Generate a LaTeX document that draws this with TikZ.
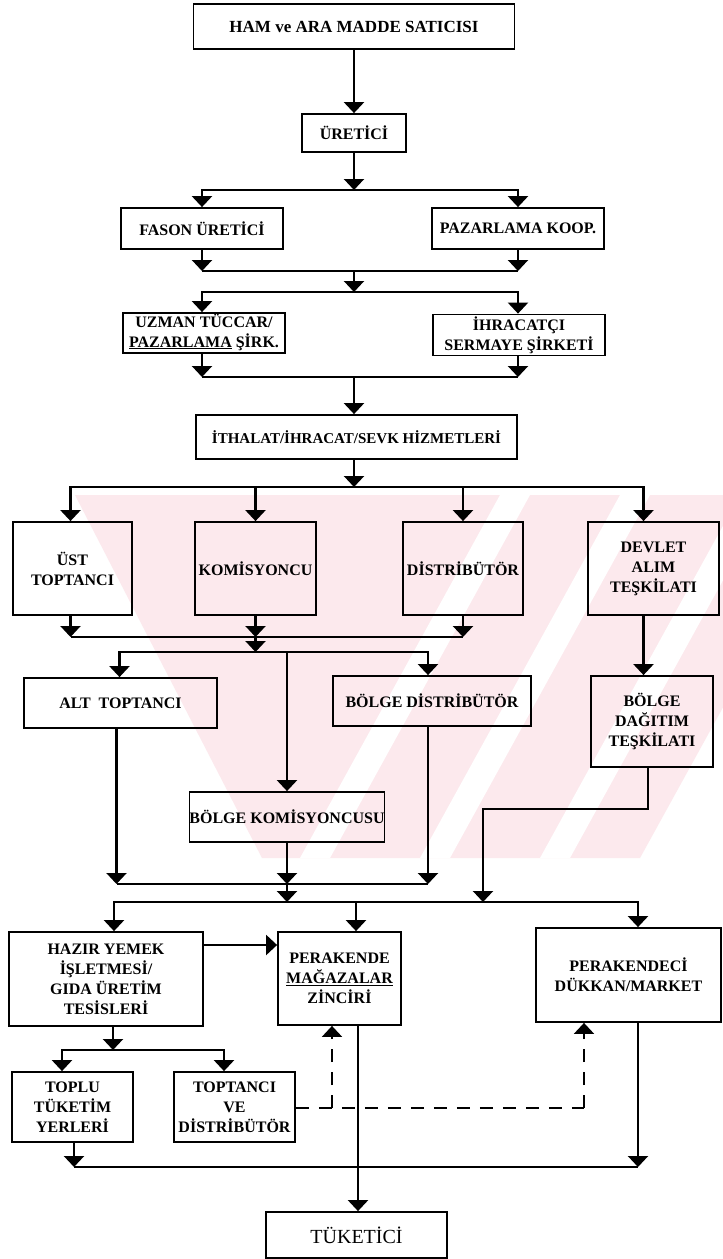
\documentclass[tikz,border=0pt]{standalone}
\usepackage{fontspec}
\setmainfont{Liberation Serif}
\usetikzlibrary{arrows.meta}
\definecolor{wmpink}{RGB}{252,233,237}
\newcommand\lab{\fontsize{16}{20}\selectfont\bfseries}
\tikzset{
  box/.style={draw, line width=1.8pt, rectangle, inner sep=0pt, align=center, font=\lab},
  ln/.style={line width=2.2pt},
  arr/.style={line width=2.2pt, -{Triangle[width=20pt,length=11pt]}},
  dsh/.style={line width=2pt, dash pattern=on 13pt off 10pt},
  dsharr/.style={dsh, -{Triangle[width=20pt,length=11pt]}},
}
\begin{document}
\begin{tikzpicture}[x=1pt, y=-1pt]
\useasboundingbox (0,0) rectangle (723,1259);
\fill[white] (0,0) rectangle (723,1259);

% faint background emblem
\begin{scope}
  \clip (0,495) rectangle (723,858);
  \fill[wmpink] (75,495) -- (262,858) -- (640,858) -- (840,495) -- cycle;
  \foreach \b in {300,420,540} {
    \fill[white] (\b,858) -- (\b+30,858) -- (\b+230,495) -- (\b+200,495) -- cycle;
  }
\end{scope}

% boxes
\node[box, minimum width=321pt, minimum height=45pt, font=\fontsize{17}{20}\selectfont\bfseries] (ham) at (354,26.5) {HAM ve ARA MADDE SATICISI};
\node[box, minimum width=104pt, minimum height=38pt] (ure) at (354,133) {ÜRETİCİ};
\node[box, minimum width=162pt, minimum height=41pt] (fason) at (202,228.5) {FASON ÜRETİCİ};
\node[box, minimum width=172pt, minimum height=41pt] (pazk) at (518,228.5) {PAZARLAMA KOOP.};
\node[box, minimum width=162pt, minimum height=40pt] (uzman) at (204,333) {UZMAN TÜCCAR/\\\underline{PAZARLAMA} \underline{ŞİRK.}};
\node[box, minimum width=172pt, minimum height=41pt] (ihrac) at (519,335) {İHRACATÇI\\SERMAYE ŞİRKETİ};
\node[box, minimum width=321pt, minimum height=44pt, font=\fontsize{15}{20}\selectfont\bfseries] (ithal) at (356.5,437) {İTHALAT/İHRACAT/SEVK HİZMETLERİ};
\node[box, minimum width=119pt, minimum height=93pt] (ust) at (72.5,568.5) {ÜST\\TOPTANCI};
\node[box, minimum width=121pt, minimum height=93pt] (komis) at (255.5,568.5) {KOMİSYONCU};
\node[box, minimum width=120pt, minimum height=93pt] (dist) at (463,568.5) {DİSTRİBÜTÖR};
\node[box, minimum width=131pt, minimum height=93pt] (devlet) at (653.5,568.5) {DEVLET\\ALIM\\TEŞKİLATI};
\node[box, minimum width=193pt, minimum height=50pt] (alt) at (120.5,703) {ALT~~TOPTANCI};
\node[box, minimum width=198pt, minimum height=50pt] (bdist) at (432,701) {BÖLGE DİSTRİBÜTÖR};
\node[box, minimum width=122pt, minimum height=91pt] (bdag) at (652,721.5) {BÖLGE\\DAĞITIM\\TEŞKİLATI};
\node[box, minimum width=190pt, minimum height=50pt] (bkom) at (287,817) {BÖLGE KOMİSYONCUSU};
\node[box, minimum width=194pt, minimum height=94pt] (hazir) at (106,979) {HAZIR YEMEK\\İŞLETMESİ/\\GIDA ÜRETİM\\TESİSLERİ};
\node[box, minimum width=123pt, minimum height=93pt] (perak) at (339.5,978.5) {PERAKENDE\\\underline{MAĞAZALAR}\\ZİNCİRİ};
\node[box, minimum width=185pt, minimum height=94pt] (perakci) at (628.5,975) {PERAKENDECİ\\DÜKKAN/MARKET};
\node[box, minimum width=121pt, minimum height=70pt] (toplu) at (72.5,1107) {TOPLU\\TÜKETİM\\YERLERİ};
\node[box, minimum width=121pt, minimum height=70pt] (topdist) at (234.5,1107) {TOPTANCI\\VE\\DİSTRİBÜTÖR};
\node[box, minimum width=181pt, minimum height=46pt, font=\fontsize{20}{24}\selectfont] (tuk) at (356.5,1235) {TÜKETİCİ};

% bus junctions
\coordinate (b1) at (354,190);
\coordinate (b2) at (354,271);
\coordinate (b3) at (354,292);
\coordinate (b4) at (354,377);
\coordinate (b5) at (354,487);
\coordinate (b6) at (255.5,637);
\coordinate (b7) at (255.5,652);
\coordinate (b8) at (287,884);
\coordinate (b9) at (287,902);
\coordinate (st) at (483,809);
\coordinate (b10) at (113,1050);
\coordinate (b11) at (358,1167);
\coordinate (d1) at (332,1108);
\coordinate (d2) at (584,1108);

% top chain
\draw[arr] (ham.south) -- (ure.north);
\draw[arr] (ure.south) -- (b1);
\draw[arr] (b1) -| (fason.north);
\draw[arr] (b1) -| (pazk.north);
\draw[arr] (fason.south) -- (fason.south |- b2);
\draw[arr] (pazk.south) -- (pazk.south |- b2);
\draw[ln] (fason.south |- b2) -- (pazk.south |- b2);
\draw[arr] (b2) -- (b3);
\draw[arr] (b3) -| ([xshift=-2pt]uzman.north);
\draw[arr] (b3) -| ([xshift=-1pt]ihrac.north);
\draw[arr] ([xshift=-2pt]uzman.south) -- ([xshift=-2pt]uzman.south |- b4);
\draw[arr] ([xshift=-1pt]ihrac.south) -- ([xshift=-1pt]ihrac.south |- b4);
\draw[ln] ([xshift=-2pt]uzman.south |- b4) -- ([xshift=-1pt]ihrac.south |- b4);
\draw[arr] (b4) -- (b4 |- ithal.north);
\draw[arr] (b4 |- ithal.south) -- (b5);

% first distribution level
\draw[arr] (b5) -| ([xshift=-2pt]ust.north);
\draw[arr] (b5) -| (komis.north);
\draw[arr] (b5) -| (dist.north);
\draw[arr] (b5) -| ([xshift=-10pt]devlet.north);
\draw[arr] ([xshift=-2pt]ust.south) -- ([xshift=-2pt]ust.south |- b6);
\draw[arr] (komis.south) -- (b6);
\draw[arr] (dist.south) -- (dist.south |- b6);
\draw[ln] ([xshift=-2pt]ust.south |- b6) -- (dist.south |- b6);
\draw[arr] (b6) -- (b7);
\draw[arr] (b7) -| ([xshift=-1pt]alt.north);
\draw[arr] (b7) -| ([xshift=-4pt]bdist.north);
\draw[arr] (b7 -| bkom.north) -- (bkom.north);
\draw[arr] ([xshift=-10pt]devlet.south) -- ([xshift=-10pt]devlet.south |- bdag.north);

% second distribution level
\draw[arr] ([xshift=-4pt]alt.south) -- ([xshift=-4pt]alt.south |- b8);
\draw[arr] (bkom.south) -- (b8);
\draw[arr] ([xshift=-4pt]bdist.south) -- ([xshift=-4pt]bdist.south |- b8);
\draw[ln] ([xshift=-4pt]alt.south |- b8) -- ([xshift=-4pt]bdist.south |- b8);
\draw[arr] (b8) -- (b9);
\draw[arr] ([xshift=-4pt]bdag.south) |- (st) -- (st |- b9);
\draw[arr] (b9) -| ([xshift=8pt]hazir.north);
\draw[arr] (b9) -| ([xshift=16.5pt]perak.north);
\draw[arr] (b9) -| ([xshift=9.5pt]perakci.north);

% retail level
\draw[arr] ([yshift=34pt]hazir.east) -- ([yshift=34pt]hazir.east -| perak.west);
\draw[arr] ([xshift=7pt]hazir.south) -- (b10);
\draw[arr] (b10) -| ([xshift=-10.5pt]toplu.north);
\draw[arr] (b10) -| ([xshift=-10.5pt]topdist.north);
\draw[arr] ([xshift=1.5pt]toplu.south) -- ([xshift=1.5pt]toplu.south |- b11);
\draw[arr] ([xshift=9.5pt]perakci.south) -- ([xshift=9.5pt]perakci.south |- b11);
\draw[ln] ([xshift=1.5pt]toplu.south |- b11) -- ([xshift=9.5pt]perakci.south |- b11);
\draw[arr] ([xshift=18.5pt]perak.south) -- ([xshift=18.5pt]perak.south |- tuk.north);

% dashed supply lines
\draw[dsh] (topdist.east |- d1) -- (d2);
\draw[dsharr] (d1) -- (d1 |- perak.south);
\draw[dsharr] (d2) -- (d2 |- perakci.south);
\end{tikzpicture}
\end{document}
